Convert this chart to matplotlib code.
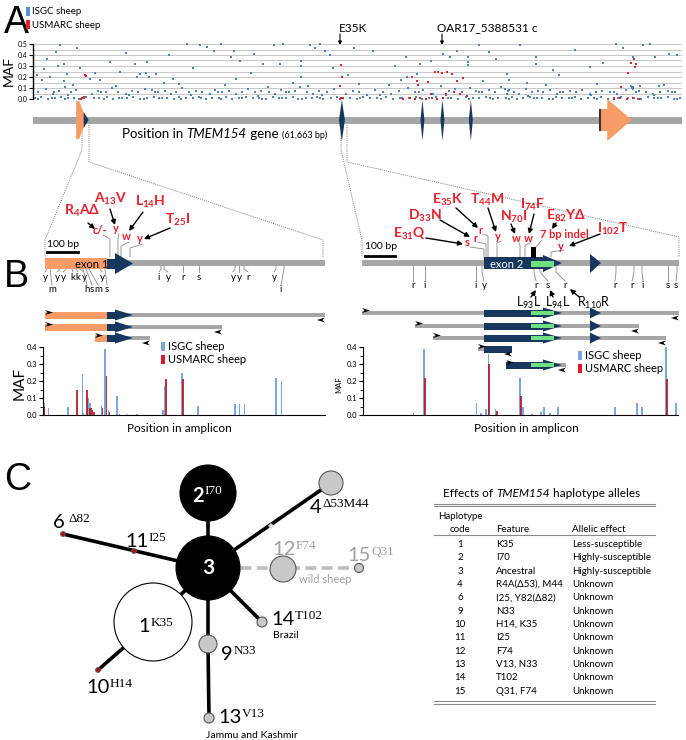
import numpy as np
import matplotlib.pyplot as plt
from matplotlib.patches import Polygon, Rectangle, Circle

plt.rcParams['font.family'] = ['Lato', 'DejaVu Sans']
plt.rcParams['mathtext.fontset'] = 'custom'
plt.rcParams['mathtext.rm'] = 'Lato'
plt.rcParams['mathtext.it'] = 'Lato:italic'
plt.rcParams['mathtext.bf'] = 'Lato:bold'

W, H = 686, 740
ORANGE = '#f79b67'
NAVY = '#17375e'
GREY = '#a6a6a6'
GREEN = '#6fe07f'
BLUE = '#4f81bd'
LBLUE = '#7ba7de'
RED = '#d9262b'
DRED = '#b3121c'
TRED = '#e8202a'

# ---------------- data: panel A (position kb, MAF) ----------------
GENE_KB = 61.663
blue_hi = [(2.6, .49), (1.3, .36), (2.2, .43), (2.9, .32), (2.4, .30), (0.35, .22), (0.9, .17), (1.6, .20),
           (2.9, .16), (3.2, .23), (4.2, .46), (4.5, .28), (5.9, .24), (5.4, .18), (6.4, .17), (7.3, .34),
           (8.3, .25), (9.9, .20), (10.2, .23), (10.7, .24), (11.0, .20), (9.7, .32), (10.8, .34), (11.7, .23),
           (12.4, .15), (13.3, .18), (14.6, .50), (15.2, .28), (15.9, .49), (16.5, .47), (17.2, .44), (17.9, .50),
           (18.8, .38), (19.1, .44), (19.7, .35), (20.7, .24), (21.0, .41), (21.9, .32), (22.9, .49), (23.5, .32),
           (23.8, .50), (24.7, .15), (25.5, .30), (25.5, .20), (25.5, .35), (26.3, .49), (26.8, .46), (27.3, .50),
           (27.7, .44), (28.2, .40), (28.5, .28), (32.3, .44), (35.4, .38), (36.8, .32), (36.5, .23), (37.8, .35),
           (39.0, .41), (39.6, .38), (40.3, .44), (41.3, .38), (41.3, .34), (41.3, .31), (42.4, .49), (43.3, .43),
           (45.0, .23), (46.3, .49), (47.8, .38), (47.8, .32), (49.4, .26), (52.9, .29), (55.4, .50), (56.1, .46),
           (57.0, .38), (58.0, .49), (58.6, .50), (59.1, .38), (60.4, .41), (61.2, .40), (35.0, .17), (35.5, .20),
           (45.2, .17), (46.9, .15), (50.0, .22), (56.8, .12), (57.0, .11), (57.7, .12), (59.5, .12), (3.8, .13),
           (7.9, .12), (13.9, .14), (18.2, .13), (22.3, .11), (26.1, .12), (31.0, .14), (33.8, .13), (42.8, .16),
           (48.7, .13), (53.6, .14), (60.0, .13), (1.0, .27), (8.8, .42), (12.9, .40), (30.5, .46), (34.4, .30),
           (44.0, .36), (51.5, .45), (54.2, .33), (19.3, .18), (29.9, .22)]
blue_mid = [(0.5, .06), (1.2, .09), (1.9, .05), (2.5, .07), (3.0, .11), (3.6, .06), (4.1, .08), (5.6, .05),
            (6.2, .07), (6.9, .06), (7.5, .10), (8.1, .06), (8.8, .05), (9.4, .07), (10.0, .06), (10.6, .09),
            (11.3, .08), (11.9, .06), (12.5, .07), (13.1, .05), (13.6, .06), (14.2, .10), (14.8, .06), (15.5, .07),
            (16.1, .06), (16.8, .05), (17.3, .08), (18.0, .06), (18.6, .07), (19.3, .05), (19.9, .06), (20.4, .09),
            (21.1, .06), (21.7, .07), (22.4, .06), (23.0, .05), (23.6, .08), (24.3, .06), (24.9, .07), (25.4, .11),
            (26.0, .06), (26.6, .05), (27.2, .07), (27.9, .06), (28.6, .09), (29.7, .05), (30.4, .07), (31.0, .06),
            (31.7, .04), (32.5, .08), (33.3, .06), (34.0, .05), (34.8, .07), (35.6, .10), (36.3, .06), (37.1, .08),
            (38.0, .05), (38.8, .12), (39.5, .07), (40.1, .09), (40.8, .06), (41.5, .10), (42.1, .07), (42.7, .06),
            (43.3, .08), (43.9, .06), (44.5, .11), (45.1, .07), (45.7, .06), (46.2, .05), (46.8, .09), (47.4, .06),
            (48.0, .07), (48.5, .06), (49.1, .08), (49.8, .05), (50.4, .06), (51.0, .07), (51.6, .06), (52.2, .08),
            (52.9, .05), (53.5, .06), (54.1, .07), (54.8, .06), (55.5, .05), (56.3, .08), (57.0, .09), (57.6, .07),
            (58.2, .06), (58.9, .05), (59.6, .06), (60.3, .07), (61.0, .06), (44.8, .09), (45.0, .05), (45.2, .08),
            (56.9, .10), (57.3, .06), (3.3, .04), (9.1, .035), (15.0, .04), (21.4, .03), (27.5, .04), (33.0, .035),
            (39.2, .04), (47.0, .03), (53.0, .04), (59.0, .035), (2.0, .065), (6.5, .065), (11.6, .06), (17.6, .065),
            (24.0, .06), (36.7, .065), (42.4, .065), (50.1, .06), (55.2, .065), (60.7, .06)]
blue_low = [(0.2, .005), (0.8, .015), (1.4, .0), (2.1, .01), (2.7, .02), (3.3, .005), (3.9, .01), (4.4, .0),
            (5.0, .015), (5.8, .005), (6.3, .01), (7.0, .02), (7.6, .0), (8.2, .01), (8.9, .005), (9.5, .015),
            (10.2, .0), (10.8, .01), (11.5, .02), (12.0, .005), (12.7, .01), (13.4, .0), (13.9, .015), (14.5, .005),
            (15.2, .01), (15.8, .02), (16.4, .0), (17.0, .01), (17.7, .005), (18.3, .015), (18.9, .0), (19.6, .01),
            (20.2, .02), (20.9, .005), (21.5, .01), (22.1, .0), (22.8, .015), (23.4, .005), (24.0, .01), (24.7, .02),
            (25.2, .0), (25.9, .01), (26.5, .005), (27.0, .015), (27.6, .0), (28.3, .01), (28.9, .02), (29.5, .005),
            (30.1, .01), (30.8, .0), (31.4, .015), (32.0, .005), (32.7, .01), (33.5, .02), (34.2, .0), (34.9, .01),
            (35.7, .005), (36.4, .015), (37.0, .0), (37.6, .01), (38.3, .02), (39.0, .005), (39.7, .01), (40.4, .0),
            (41.1, .015), (41.8, .005), (42.4, .01), (43.0, .02), (43.7, .0), (44.2, .01), (44.9, .005), (45.5, .015),
            (46.0, .0), (46.6, .01), (47.2, .02), (47.9, .005), (48.4, .01), (49.0, .0), (49.7, .015), (50.3, .005),
            (50.9, .01), (51.5, .02), (52.1, .0), (52.7, .01), (53.3, .005), (54.0, .015), (54.6, .0), (55.2, .01),
            (55.9, .02), (56.5, .005), (57.1, .01), (57.8, .0), (58.4, .015), (59.0, .005), (59.7, .01), (60.3, .02),
            (60.9, .0), (61.5, .01), (0.5, .0), (1.8, .005), (3.0, .0), (4.8, .005), (6.7, .0), (8.5, .005),
            (10.5, .0), (12.3, .005), (14.1, .0), (16.0, .005), (17.9, .0), (19.9, .005), (21.8, .0), (23.7, .005),
            (25.6, .0), (27.3, .005), (29.2, .0), (31.1, .005), (33.1, .0), (35.1, .005), (37.3, .0), (39.4, .005),
            (41.4, .0), (43.4, .005), (45.2, .0), (47.6, .005), (49.4, .0), (51.2, .005), (53.6, .0), (55.6, .005),
            (57.5, .0), (59.4, .005), (61.2, .0)]
red_pts = [(4.6, .0), (4.7, .01), (4.8, .02), (4.7, .005), (4.9, .22), (5.0, .21), (29.2, .0), (29.3, .01),
           (29.2, .12), (29.4, .20), (29.3, .31), (29.5, .005), (35.2, .0), (35.8, .005), (36.3, .0), (36.8, .01),
           (37.3, .0), (37.9, .005), (38.4, .0), (39.0, .01), (36.6, .13), (36.5, .16), (37.5, .155), (38.2, .245),
           (38.5, .25), (38.9, .24), (39.3, .245), (39.8, .23), (40.3, .165), (37.8, .05), (39.2, .05), (40.0, .06),
           (40.6, .05), (41.2, .03), (36.0, .20), (40.9, .19), (55.2, .0), (55.8, .005), (56.4, .0), (57.0, .005),
           (57.6, .0), (56.8, .33), (57.1, .36), (57.3, .32), (57.2, .29), (56.5, .24), (55.9, .11)]

# gene model (kb)
exon1_kb = (4.1, 5.1)
exon_lens_kb = [29.35, 37.0, 38.9, 41.6]
exon_last_kb = (53.9, 56.9)

# ---------------- data: panel B bar charts (bp in amplicon, MAF) ----------------
left_blue_pos = [4, 17, 80, 125, 130, 144, 150, 186, 198, 208, 236, 270, 300, 383, 387, 444, 495, 613, 626, 642, 744, 760]
left_blue_maf = [.07, .04, .05, .24, .01, .10, .07, .06, .39, .03, .11, .005, .005, .03, .17, .25, .055, .065, .065, .065, .215, .20]
left_red_pos = [5, 109, 141, 150, 154, 158, 163, 189, 203, 212, 245, 393, 447]
left_red_maf = [.05, .15, .15, .04, .04, .03, .02, .04, .23, .02, .005, .21, .21]
right_blue_pos = [167, 203, 377, 393, 407, 410, 417, 443, 523, 533, 563, 593, 603, 623, 650, 840, 913, 930, 1010, 1043]
right_blue_maf = [.01, .39, .07, .01, .035, .035, .36, .035, .22, .05, .005, .02, .05, .01, .05, .05, .07, .05, .40, .07]
right_red_pos = [207, 420, 447, 527, 1013]
right_red_maf = [.22, .30, .025, .11, .21]

# ---------------- data: panel C network ----------------
node_id = ['3', '2', '1', '4', '12', '15', '14', '9', '13', '6', '11', '10']
node_x = [208, 208, 153, 331, 283, 359, 262, 208, 209, 63, 134, 98]
node_y = [568, 493, 622, 483, 569, 568, 622, 644, 718, 534, 551, 670]
node_r = [32, 28, 39, 12, 13, 4.5, 5, 9, 5, 2.3, 2.3, 2.3]
node_fc = ['black', 'black', 'white', '#c8c8c8', '#c8c8c8', '#c8c8c8', '#c8c8c8', '#c8c8c8', '#c8c8c8',
           '#c00000', '#c00000', '#c00000']
edges = [('3', '2'), ('3', '4'), ('3', '6'), ('3', '1'), ('1', '10'), ('3', '14'), ('3', '9'), ('9', '13')]
wild_edges = [('3', '15')]
net_labels = [('6', 'Δ82', 53, 528, 'black'), ('11', 'I25', 125, 547, 'black'), ('2', 'I70', 192, 502, 'white'),
              ('4', 'Δ53M44', 310, 513, 'black'), ('12', 'F74', 272, 555, '#a0a0a0'),
              ('15', 'Q31', 347, 561, '#a0a0a0'), ('1', 'K35', 138, 632, 'black'),
              ('14', 'T102', 271, 625, 'black'), ('9', 'N33', 221, 660, 'black'),
              ('10', 'H14', 86, 693, 'black'), ('13', 'V13', 218, 723, 'black')]

# ---------------- data: table ----------------
hap_code = ['1', '2', '3', '4', '6', '9', '10', '11', '12', '13', '14', '15']
hap_feature = ['K35', 'I70', 'Ancestral', 'R4A(Δ53), M44', 'I25, Y82(Δ82)', 'N33', 'H14, K35', 'I25', 'F74',
               'V13, N33', 'T102', 'Q31, F74']
hap_effect = ['Less-susceptible', 'Highly-susceptible', 'Highly-susceptible'] + ['Unknown'] * 9

# =====================================================================
fig = plt.figure(figsize=(W / 100, H / 100), dpi=100)
ax = fig.add_axes([0, 0, 1, 1])
ax.set_xlim(0, W)
ax.set_ylim(H, 0)
ax.axis('off')


def px_axes(x0, y0, x1, y1):
    a = fig.add_axes([x0 / W, 1 - y1 / H, (x1 - x0) / W, (y1 - y0) / H])
    a.patch.set_alpha(0)
    return a


def kb2px(kb):
    return 33 + kb / GENE_KB * 649


def poly(pts, fc, z=3, ec='none', lw=0):
    ax.add_patch(Polygon(pts, closed=True, fc=fc, ec=ec, lw=lw, zorder=z))


def rect(x0, x1, y0, y1, fc, z=3):
    ax.add_patch(Rectangle((x0, y0), x1 - x0, y1 - y0, fc=fc, ec='none', zorder=z))


def arrow(p0, p1, lw=1.0, ms=7):
    ax.annotate('', xy=p1, xytext=p0,
                arrowprops=dict(arrowstyle='-|>', color='black', lw=lw, mutation_scale=ms,
                                shrinkA=0, shrinkB=0))


def primer(x, y, d):
    poly([(x, y - 2.5), (x + 8 * d, y), (x, y + 2.5), (x + 2.5 * d, y)], 'black', z=5)


def chain(x, y, parts):
    # parts: list of (text, fontsize, style)
    t = ax.text(x, y, parts[0][0], fontsize=parts[0][1], style=parts[0][2], va='baseline')
    for s, fs, st in parts[1:]:
        t = ax.annotate(s, xy=(1, 0), xycoords=t, fontsize=fs, style=st, va='bottom', ha='left')
    return t


# panel letters
for letter, yb in [('A', 33), ('B', 287), ('C', 490)]:
    ax.text(4, yb, letter, fontsize=27, family='Liberation Sans', va='baseline', ha='left')

# ---------------- panel A ----------------
rect(26, 30, 7, 16, '#5b8fd3')
rect(26, 30, 20, 29, '#e02020')
ax.text(32, 12, 'ISGC sheep', fontsize=7, va='center')
ax.text(32, 25, 'USMARC sheep', fontsize=7, va='center')

axA = px_axes(33, 44, 682, 99)
axA.set_xlim(0, GENE_KB)
axA.set_ylim(0, 0.5)
for v in np.arange(0, 0.51, 0.05):
    axA.axhline(v, color='#c9c9c9', lw=0.8, zorder=0)
for grp, col in [(blue_low, BLUE), (blue_mid, BLUE), (blue_hi, BLUE), (red_pts, RED)]:
    xs, ys = zip(*grp)
    axA.scatter(xs, ys, s=1.1, c=col, marker='s', linewidths=0, clip_on=False, zorder=3)
for s in ['top', 'right', 'bottom']:
    axA.spines[s].set_visible(False)
axA.spines['left'].set_linewidth(1.0)
axA.set_xticks([])
axA.set_yticks(np.arange(0, 0.51, 0.1))
axA.set_yticklabels(['%.1f' % v for v in np.arange(0, 0.51, 0.1)])
axA.tick_params(axis='y', labelsize=5, length=3, pad=1)
ax.text(9, 71, 'MAF', rotation=90, fontsize=10, ha='center', va='center')

ax.text(339, 28, 'E35K', fontsize=8.5, va='center', ha='left')
arrow((340, 34), (340, 45), lw=0.8, ms=5)
ax.text(437, 28, 'OAR17_5388531 c', fontsize=8.5, va='center', ha='left')
arrow((442, 34), (442, 45), lw=0.8, ms=5)

# gene model
rect(33, 682, 117, 124, GREY, z=2)
e0, e1 = kb2px(exon1_kb[0]), kb2px(exon1_kb[1])
poly([(e0, 101), (e0 + 3, 101), (e1, 120), (e0 + 3, 139), (e0, 139)], ORANGE)
poly([(e1 - 3, 112), (e1 + 2, 120), (e1 - 3, 128)], NAVY, z=4)
for i, c in enumerate(exon_lens_kb):
    cx = kb2px(c)
    hw = 3.0 if i == 0 else 2.0
    poly([(cx, 100), (cx + hw, 120), (cx, 141), (cx - hw, 120)], NAVY)
l0, l1 = kb2px(exon_last_kb[0]), kb2px(exon_last_kb[1])
poly([(l0, 109), (l0 + 7, 109), (l0 + 7, 99), (l1, 120), (l0 + 7, 141), (l0 + 7, 131), (l0, 131)], ORANGE)
ax.plot([l0, l0], [110, 130], color='#333333', lw=1.5, zorder=4)

chain(122, 138, [('Position in ', 9.5, 'normal'), ('TMEM154', 9.5, 'italic'),
                 (' gene ', 9.5, 'normal'), ('(61,663 bp)', 6.5, 'normal')])

# dotted zoom lines
dot = dict(color='#777777', lw=0.7, ls=(0, (1, 1.2)), zorder=1)
ax.plot([82, 82, 45, 45], [125, 150, 240, 257], **dot)
ax.plot([89, 89, 323, 323], [125, 162, 240, 257], **dot)
ax.plot([341, 341, 362, 362], [125, 150, 240, 257], **dot)
ax.plot([347, 347, 679, 679], [125, 162, 237, 257], **dot)

# ---------------- panel B, left diagram ----------------
rect(45, 325, 260, 266, GREY, z=2)
rect(45, 107, 258, 269, ORANGE)
rect(107, 116, 258.5, 268.5, NAVY)
poly([(115, 253), (133, 263.5), (115, 274)], NAVY)
ax.text(92, 264.5, 'exon 1', fontsize=8, ha='center', va='center', zorder=6)
ax.text(47, 247, '100 bp', fontsize=7.5, va='baseline')
ax.plot([47, 78], [252, 252], color='black', lw=2)

left_above = [('c/-', 110, 100, 230), ('y', 118, 116, 229), ('w', 121, 126, 237), ('y', 130, 140, 239)]
for lab, sx, lx, ly in left_above:
    ax.text(lx, ly, lab, fontsize=8, color=TRED, fontweight='bold', ha='center', va='center')
    ax.plot([lx + 3, sx, sx], [ly + 5, ly + 9, 257], color='#888888', lw=0.6)

left_below = [('y', 47, 45, 277), ('m', 50, 52, 290), ('y', 60, 57, 277), ('y', 66, 63, 277), ('k', 72, 73, 277),
              ('k', 76, 78, 277), ('y', 80, 84, 277), ('h', 83, 87, 290), ('s', 86, 92, 290), ('m', 89, 98, 290),
              ('y', 100, 102, 277), ('s', 105, 107, 290), ('i', 161, 159, 277), ('y', 164, 168, 277),
              ('r', 183, 183, 277), ('s', 199, 199, 277), ('y', 235, 233, 277), ('y', 239, 239, 277),
              ('r', 244, 248, 277), ('y', 276, 274, 277), ('i', 284, 281, 290)]
for lab, sx, lx, ly in left_below:
    ax.text(lx, ly, lab, fontsize=7, ha='center', va='center')
    ax.plot([sx, sx, lx], [266, 269, ly - 5], color='#888888', lw=0.6)

red_left = [(r'$\mathbf{R_{4}A\Delta}$', 82, 215, (88, 223), (95, 229)),
            (r'$\mathbf{A_{13}V}$', 111, 203, (110, 209), (115, 225)),
            (r'$\mathbf{L_{14}H}$', 150, 206, (143, 212), (129, 231)),
            (r'$\mathbf{T_{25}I}$', 178, 224, (170, 228), (144, 239))]
for lab, x, y, a0, a1 in red_left:
    ax.text(x, y, lab, fontsize=10, color=TRED, ha='center', va='baseline')
    arrow(a0, a1)


def left_amp(x0, x1, y):
    rect(x0, x1, y - 2, y + 2, GREY, z=2)
    rect(max(x0, 45), 107, y - 3.5, y + 3.5, ORANGE)
    rect(107, 116, y - 3.5, y + 3.5, NAVY)
    poly([(115, y - 5.5), (133, y), (115, y + 5.5)], NAVY)
    primer(x0, y - 2.5, 1)
    primer(x1, y + 5, -1)


for x0, x1, y in [(45, 325, 315), (45, 222, 327), (95, 150, 338)]:
    left_amp(x0, x1, y)

# ---------------- panel B, right diagram ----------------
rect(362, 679, 260, 266, GREY, z=2)
rect(484, 544, 257, 269, NAVY)
poly([(543, 255), (562, 263), (543, 272)], NAVY)
rect(531, 554, 260.5, 266.5, GREEN, z=4)
poly([(590, 254), (601, 263), (590, 273)], NAVY)
ax.text(507, 264, 'exon 2', fontsize=8, color='white', ha='center', va='center', zorder=6)
rect(531, 536, 247, 258, 'black')
ax.text(365, 249, '100 bp', fontsize=7.5, va='baseline')
ax.plot([365, 395], [256, 256], color='black', lw=2)

right_above = [('s', 484, 467, 243), ('r', 486, 475, 238), ('r', 488, 480, 230), ('y', 497, 498, 237),
               ('w', 520, 516, 239), ('w', 525, 528, 239), ('y', 551, 561, 246)]
for lab, sx, lx, ly in right_above:
    ax.text(lx, ly, lab, fontsize=8, color=TRED, fontweight='bold', ha='center', va='center')
    ax.plot([lx + 3, sx, sx], [ly + 4, ly + 6, 257], color='#888888', lw=0.6)
ax.text(540, 235, '7 bp indel', fontsize=8, color=TRED, fontweight='bold', ha='left', va='center')
ax.plot([542, 536], [240, 247], color='#888888', lw=0.6)

right_below = [('r', 413, 413, 286), ('i', 425, 425, 286), ('i', 476, 476, 286), ('y', 482, 484, 286),
               ('r', 534, 536, 286), ('s', 540, 548, 286), ('r', 556, 565, 286), ('r', 616, 615, 286),
               ('r', 634, 632, 286), ('i', 642, 643, 286), ('s', 668, 668, 286), ('s', 677, 676, 286)]
for lab, sx, lx, ly in right_below:
    ax.text(lx, ly, lab, fontsize=7, ha='center', va='center')
    ax.plot([sx, sx, lx], [266, 272, ly - 5], color='#888888', lw=0.6)

red_right = [(r'$\mathbf{E_{31}Q}$', 409, 238, (426, 238), (463, 244)),
             (r'$\mathbf{D_{33}N}$', 425, 220, (440, 220), (470, 237)),
             (r'$\mathbf{E_{35}K}$', 448, 204, (456, 208), (478, 228)),
             (r'$\mathbf{T_{44}M}$', 487, 204, (488, 208), (496, 232)),
             (r'$\mathbf{N_{70}I}$', 514, 221, (511, 224), (515, 234)),
             (r'$\mathbf{I_{74}F}$', 533, 209, (534, 214), (529, 234)),
             (r'$\mathbf{E_{82}Y\Delta}$', 566, 220, (556, 223), (552, 229)),
             (r'$\mathbf{I_{102}T}$', 613, 233, (600, 234), (569, 246))]
for lab, x, y, a0, a1 in red_right:
    ax.text(x, y, lab, fontsize=10, color=TRED, ha='center', va='baseline')
    arrow(a0, a1)

for lab, x, a0, a1 in [(r'L$_{93}$L', 529, (531, 297), (536, 290)),
                       (r'L$_{94}$L', 558, (553, 297), (550, 290)),
                       (r'R$_{110}$R', 594, (579, 297), (570, 289))]:
    ax.text(x, 303, lab, fontsize=9, ha='center', va='center')
    arrow(a0, a1)


def right_amp(x0, x1, y, b0=484, b1=544, head=True):
    rect(x0, x1, y - 2, y + 2, GREY, z=2)
    rect(max(x0, b0), b1, y - 3.5, y + 3.5, NAVY)
    if head:
        poly([(543, y - 5.5), (562, y), (543, y + 5.5)], NAVY)
        rect(531, 554, y - 1.8, y + 1.8, GREEN, z=4)
    if x1 > 601:
        poly([(590, y - 5.5), (601, y), (590, y + 5.5)], NAVY)
    primer(x0, y - 2.5, 1)
    primer(x1, y + 5, -1)


right_amp(362, 679, 313)
right_amp(415, 639, 326)
right_amp(433, 666, 338)
right_amp(478, 512, 349, b1=512, head=False)
right_amp(506, 566, 365, b0=506)

# ---------------- panel B bar charts ----------------
def bar_axes(x0, x1, xmax):
    a = px_axes(x0, 347, x1, 415)
    a.set_xlim(0, xmax)
    a.set_ylim(0, 0.4)
    for s in ['top', 'right']:
        a.spines[s].set_visible(False)
    a.set_xticks([])
    a.set_yticks(np.arange(0, 0.41, 0.1))
    a.set_yticklabels(['%.1f' % v for v in np.arange(0, 0.41, 0.1)])
    a.set_yticks(np.arange(0.05, 0.4, 0.1), minor=True)
    a.tick_params(axis='y', labelsize=5.5, length=3, pad=1)
    a.tick_params(axis='y', which='minor', length=2)
    return a


axL = bar_axes(43, 325, 900)
axL.bar(left_blue_pos, left_blue_maf, width=4, color=LBLUE, linewidth=0)
axL.bar(left_red_pos, left_red_maf, width=4.5, color=DRED, alpha=0.85, linewidth=0)
axR = bar_axes(363, 678, 1050)
axR.bar(right_blue_pos, right_blue_maf, width=4, color=LBLUE, linewidth=0)
axR.bar(right_red_pos, right_red_maf, width=4.5, color=DRED, alpha=0.85, linewidth=0)

ax.text(20, 383, 'MAF', rotation=90, fontsize=11, ha='center', va='center')
ax.text(339, 385, 'MAF', rotation=90, fontsize=5.5, ha='center', va='center')
ax.text(179, 428, 'Position in amplicon', fontsize=8.5, ha='center', va='center')
ax.text(526, 429, 'Position in amplicon', fontsize=8.5, ha='center', va='center')
for bx, by in [(161, 342), (578, 351)]:
    rect(bx, bx + 4, by, by + 9, LBLUE)
    rect(bx, bx + 4, by + 13, by + 22, '#e01a22')
    ax.text(bx + 7, by + 4.5, 'ISGC sheep', fontsize=8, va='center')
    ax.text(bx + 7, by + 17.5, 'USMARC sheep', fontsize=8, va='center')

# ---------------- panel C network ----------------
pos = {n: (x, y) for n, x, y in zip(node_id, node_x, node_y)}
for a, b in edges:
    ax.plot([pos[a][0], pos[b][0]], [pos[a][1], pos[b][1]], color='black', lw=2.6, zorder=2,
            solid_capstyle='butt')
for a, b in wild_edges:
    ax.plot([pos[a][0], pos[b][0]], [pos[a][1], pos[b][1]], color='#bdbdbd', lw=2.6, zorder=2,
            ls=(0, (3, 1.5)))
for n, x, y, r, fc in zip(node_id, node_x, node_y, node_r, node_fc):
    ec = 'black' if fc in ('black', 'white') else '#555555'
    ax.add_patch(Circle((x, y), r, fc=fc, ec=ec, lw=0.8, zorder=3))
poly([(268, 526), (271, 523), (274, 526), (271, 529)], '#d9d9d9', z=4)
ax.text(208, 568, '3', fontsize=15, color='white', fontweight='bold', ha='center', va='center', zorder=5)
for num, sup, x, y, col in net_labels:
    bold = 'bold' if num == '2' else 'normal'
    t = ax.text(x, y, num, fontsize=14.5, color=col, fontweight=bold, va='baseline', ha='left', zorder=5)
    gap = 3 if num == '6' else 0.5
    ax.annotate(sup, xy=(1, 1), xycoords=t, xytext=(gap, 0.5), textcoords='offset points',
                fontsize=9.5, family=['Liberation Serif', 'DejaVu Serif'], color=col,
                va='top', ha='left', zorder=5)
ax.text(299, 583, 'wild sheep', fontsize=8, color='#a0a0a0', va='baseline')
ax.text(273, 638, 'Brazil', fontsize=7.5, va='baseline')
ax.text(206, 738, 'Jammu and Kashmir', fontsize=7.5, va='baseline')

# ---------------- table ----------------
chain(443, 497, [('Effects of ', 8.5, 'normal'), ('TMEM154', 8.5, 'italic'),
                 (' haplotype alleles', 8.5, 'normal')])
tl = dict(color='#8c8c8c', lw=0.8)
for yy in [503.5, 506]:
    ax.plot([434, 655], [yy, yy], **tl)
ax.plot([434, 655], [535, 535], **tl)
for yy in [701, 703.5]:
    ax.plot([434, 655], [yy, yy], **tl)
ax.text(460, 519, 'Haplotype', fontsize=7, ha='center', va='baseline')
ax.text(460, 532, 'code', fontsize=7, ha='center', va='baseline')
ax.text(496, 532, 'Feature', fontsize=7, va='baseline')
ax.text(572, 532, 'Allelic effect', fontsize=7, va='baseline')
for i, (c, f, e) in enumerate(zip(hap_code, hap_feature, hap_effect)):
    yb = 547 + i * 13.35
    ax.text(460, yb, c, fontsize=7, ha='center', va='baseline')
    ax.text(496, yb, f, fontsize=7, va='baseline')
    ax.text(572, yb, e, fontsize=7, va='baseline')

fig.savefig('out.png', dpi=100)
